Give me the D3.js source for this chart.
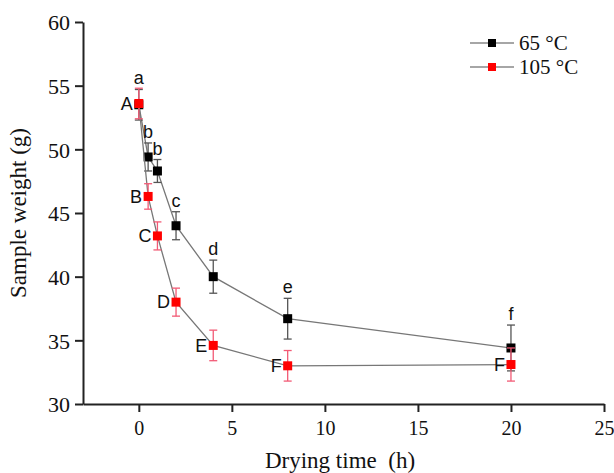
<!DOCTYPE html>
<html>
<head>
<meta charset="utf-8">
<script src="https://cdn.jsdelivr.net/npm/d3@7"></script>
<style>
  html, body { margin: 0; padding: 0; background: #fff; }
  svg { display: block; }
</style>
</head>
<body>
<div id="chart"></div>
<script>
// drying curves
const times = [0, 0.5, 1, 2, 4, 8, 20];
const weight65 = [53.5, 49.4, 48.3, 44.0, 40.0, 36.7, 34.4];
const err65 = [1.2, 1.1, 0.9, 1.1, 1.3, 1.6, 1.8];
const weight105 = [53.6, 46.3, 43.2, 38.0, 34.6, 33.0, 33.1];
const err105 = [1.2, 1.0, 1.1, 1.1, 1.2, 1.2, 1.3];
const letters65 = ['a', 'b', 'b', 'c', 'd', 'e', 'f'];
const letters105 = ['A', 'B', 'C', 'D', 'E', 'F', 'F'];
const xTicks = [0, 5, 10, 15, 20, 25];
const yTicks = [30, 35, 40, 45, 50, 55, 60];
const seriesNames = ['65 °C', '105 °C'];

const width = 614;
const height = 473;
const serif = '"Liberation Serif", "Times New Roman", serif';
const sans = '"Liberation Sans", Arial, sans-serif';

const svg = d3.select('#chart').append('svg')
  .attr('width', width)
  .attr('height', height);

const x = d3.scaleLinear().domain([-3, 25]).range([83, 604]);
const y = d3.scaleLinear().domain([30, 60]).range([404, 22]);

// axes
const xAxis = svg.append('g')
  .attr('transform', `translate(0,${y(30)})`)
  .call(d3.axisBottom(x).tickValues(xTicks).tickSize(8).tickSizeOuter(0).tickPadding(9));
const yAxis = svg.append('g')
  .attr('transform', `translate(${x(-3)},0)`)
  .call(d3.axisLeft(y).tickValues(yTicks).tickSize(8).tickSizeOuter(0).tickPadding(5));

[xAxis, yAxis].forEach(g => {
  g.select('.domain').attr('stroke', '#222').attr('stroke-width', 2);
  g.selectAll('.tick line').attr('stroke', '#222').attr('stroke-width', 2);
  g.selectAll('.tick text')
    .attr('fill', '#111')
    .style('font-family', serif)
    .style('font-size', '20px');
});
yAxis.selectAll('.tick text').attr('dy', '0.35em').style('font-size', '22px');

svg.append('text')
  .attr('x', 340)
  .attr('y', 468)
  .attr('text-anchor', 'middle')
  .style('font-family', serif)
  .style('font-size', '23px')
  .attr('fill', '#111')
  .text('Drying time\u00a0\u00a0(h)');

svg.append('text')
  .attr('transform', `translate(26,${y(45)}) rotate(-90)`)
  .attr('text-anchor', 'middle')
  .style('font-family', serif)
  .style('font-size', '23px')
  .attr('fill', '#111')
  .text('Sample weight (g)');

const series = [
  {values: weight65, errs: err65, letters: letters65, fill: '#000', errColor: '#555'},
  {values: weight105, errs: err105, letters: letters105, fill: '#ff0000', errColor: '#f25a75'},
];

const line = d3.line()
  .x(d => x(d.t))
  .y(d => y(d.v));

const capW = 4;

series.forEach((s, si) => {
  const pts = times.map((t, i) => ({t, v: s.values[i], e: s.errs[i], label: s.letters[i]}));
  const g = svg.append('g');

  g.append('path')
    .datum(pts)
    .attr('fill', 'none')
    .attr('stroke', '#777')
    .attr('stroke-width', 1.3)
    .attr('d', line);

  const eb = g.selectAll('.err').data(pts).enter().append('g')
    .attr('stroke', s.errColor)
    .attr('stroke-width', 1.3);
  eb.append('line')
    .attr('x1', d => x(d.t)).attr('x2', d => x(d.t))
    .attr('y1', d => y(d.v + d.e)).attr('y2', d => y(d.v - d.e));
  eb.append('line')
    .attr('x1', d => x(d.t) - capW).attr('x2', d => x(d.t) + capW)
    .attr('y1', d => y(d.v + d.e)).attr('y2', d => y(d.v + d.e));
  eb.append('line')
    .attr('x1', d => x(d.t) - capW).attr('x2', d => x(d.t) + capW)
    .attr('y1', d => y(d.v - d.e)).attr('y2', d => y(d.v - d.e));

  g.selectAll('rect').data(pts).enter().append('rect')
    .attr('x', d => x(d.t) - 4.5)
    .attr('y', d => y(d.v) - 4.5)
    .attr('width', 9)
    .attr('height', 9)
    .attr('fill', s.fill);

  const labels = g.selectAll('.lab').data(pts).enter().append('text')
    .style('font-family', sans)
    .style('font-size', '18px')
    .attr('fill', '#111')
    .text(d => d.label);
  if (si === 0) {
    // lower-case letters sit on top of the upper cap
    labels
      .attr('x', d => x(d.t))
      .attr('y', d => y(d.v + d.e) - 5)
      .attr('text-anchor', 'middle');
  } else {
    // capitals sit to the left of the marker
    labels
      .attr('x', d => x(d.t) - 6)
      .attr('y', d => y(d.v))
      .attr('dy', '0.35em')
      .attr('text-anchor', 'end');
  }
});

// legend
const legend = svg.append('g');
seriesNames.forEach((name, i) => {
  const ly = 43 + i * 24;
  legend.append('line')
    .attr('x1', 470).attr('x2', 514)
    .attr('y1', ly).attr('y2', ly)
    .attr('stroke', '#888')
    .attr('stroke-width', 1.5);
  legend.append('rect')
    .attr('x', 488).attr('y', ly - 4)
    .attr('width', 8).attr('height', 8)
    .attr('fill', series[i].fill);
  legend.append('text')
    .attr('x', 519).attr('y', ly)
    .attr('dy', '0.35em')
    .style('font-family', serif)
    .style('font-size', '21px')
    .attr('fill', '#111')
    .text(name);
});
</script>
</body>
</html>
